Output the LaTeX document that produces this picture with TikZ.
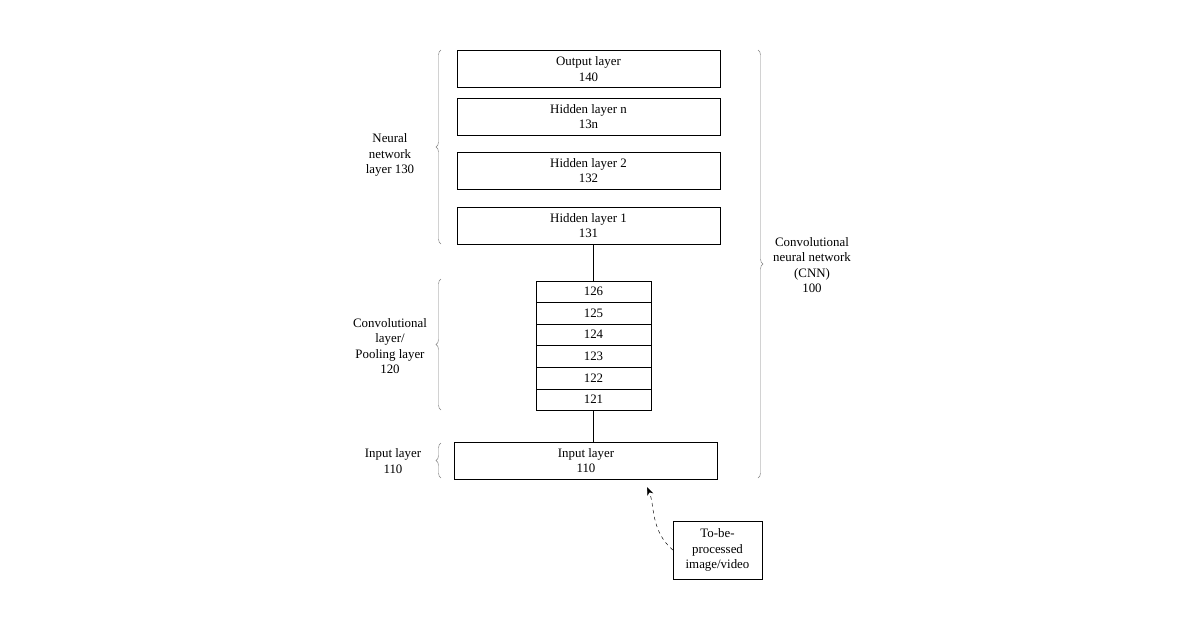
\documentclass[tikz,border=0pt]{standalone}
\usepackage{fontspec}
\setmainfont{Liberation Serif}
\usetikzlibrary{decorations.pathreplacing,arrows.meta}
\tikzset{ layer/.style = { draw
                           , thin
                           , align        = center
                           , inner sep    = 0pt
                           , minimum width  = 7.89cm
                           , minimum height = 1.12cm
                           },
            cell/.style = { draw
            , thin
            , inner sep    = 0pt
            , minimum width  = 3.45cm
            , minimum height = 0.645cm
            },
            brc/.style = { draw = gray
            , decorate
            , decoration = {brace, amplitude=0.15cm}
            },
            lbl/.style = { align = center }
          }

\begin{document}
\begin{tikzpicture}
    [x={(0.03cm,0)}, y={(0,-0.03cm)},
    font=\fontsize{11}{13}\selectfont]
    \useasboundingbox (0,0) rectangle (1200,630);
    % neural network part
    \node[layer] (out) at (588.5,69)  {Output layer\\140};
    \node[layer] (hn)  at (588.5,116.5) {Hidden layer n\\13n};
    \node[layer] (h2)  at (588.5,170.5) {Hidden layer 2\\132};
    \node[layer] (h1)  at (588.5,225.5) {Hidden layer 1\\131};
    % convolution / pooling stack
    \foreach \k/\y in {126/291.5, 125/313, 124/334.5, 123/356, 122/378, 121/399.5} {
        \node[cell] (c\k) at (593.5,\y) {\k};
    }
    \node[layer] (in) at (586,460.5) {Input layer\\110};
    \node[draw, thin, align=center, minimum width=2.67cm, minimum height=1.74cm,
          inner sep=0pt] (src) at (717.5,550) {To-be-\\processed\\image/video};
    \draw (h1.south -| c126.north) -- (c126.north);
    \draw (c121.south) -- (c121.south |- in.north);
    \coordinate (tip) at (647,487);
    \draw[dashed, -{Stealth[length=2.5mm]}] (src.west) .. controls (650,530) and (655,505) .. (tip);
    % braces
    \draw[brc] (441,244) -- (441,50);
    \node[lbl] (nnl) at (390,155) {Neural\\network\\layer 130};
    \draw[brc] (441,410) -- (441,279);
    \node[lbl] (cvl) at (390,346) {Convolutional\\layer/\\Pooling layer\\120};
    \draw[brc] (441,478) -- (441,443);
    \node[lbl] (inl) at (393,461) {Input layer\\110};
    \draw[brc] (758,50) -- (758,478);
    \node[lbl] (cnn) at (812,265) {Convolutional\\neural network\\(CNN)\\100};
\end{tikzpicture}
\end{document}
